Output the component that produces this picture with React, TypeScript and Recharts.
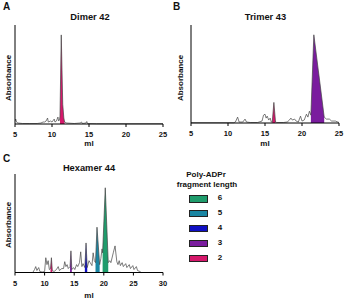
import { ComposedChart, Line, Area, XAxis, YAxis } from "recharts";

const FONT = '"Liberation Sans", Arial, sans-serif';

// legend: poly-ADPr fragment lengths and their fill colours
const fragmentLengths = [6, 5, 4, 3, 2];
const fragmentColors: Record<number, string> = {
  6: "#1f9c6c",
  5: "#1a86a3",
  4: "#1010c4",
  3: "#7a1c9e",
  2: "#d6186b",
};

// chromatogram traces: [ml, absorbance %]
const dimerTrace: [number, number][] = [
  [5.0, 3], [5.1, 5], [5.2, 2], [5.4, 1], [6, 0.5], [7, 0.5], [8, 0.5],
  [8.5, 1], [8.8, 2], [9.0, 2], [9.2, 3], [9.4, 6], [9.5, 2], [9.8, 3],
  [10.0, 2], [10.3, 5], [10.4, 2], [10.6, 3], [10.8, 7], [10.9, 3],
  [11.0, 4], [11.08, 8], [11.25, 90], [11.45, 20], [11.6, 6], [11.7, 2],
  [12, 1], [13, 0.5], [13.8, 1], [14.0, 2], [14.1, 0.5], [14.6, 1],
  [14.7, 2.5], [14.8, 0.5], [16, 0.3], [20, 0.3], [25, 0.3],
];

const trimerTrace: [number, number][] = [
  [5, 0.3], [10.8, 0.3], [11.0, 1], [11.3, 6], [11.5, 1], [12.0, 1],
  [12.3, 4], [12.5, 1], [13, 0.5], [14, 0.5], [14.6, 2], [14.8, 8],
  [15.0, 9], [15.15, 5], [15.3, 7], [15.5, 3], [15.7, 5], [15.85, 1],
  [15.98, 1], [16.2, 21], [16.42, 1], [16.6, 0.5], [17.5, 0.5], [18.0, 1],
  [18.3, 3], [18.5, 5], [18.7, 3], [19.0, 4], [19.2, 2], [19.5, 1],
  [19.8, 7], [20.0, 2], [20.3, 3], [20.6, 9], [20.8, 6], [21.0, 12],
  [21.2, 8], [21.6, 90], [23.0, 6], [23.3, 4], [23.7, 4], [24, 2],
  [24.5, 2], [25, 0.5],
];

const hexamerTrace: [number, number][] = [
  [5, 0], [8.0, 0], [8.3, 3], [8.5, 6], [8.7, 2], [9.0, 5], [9.2, 1],
  [9.6, 0.5], [10.0, 1], [10.2, 15], [10.4, 8], [10.6, 12], [10.8, 3],
  [11.0, 4], [11.15, 15], [11.3, 2], [11.6, 1], [12.0, 3], [12.3, 6],
  [12.5, 2], [12.9, 4], [13.2, 4], [13.4, 11], [13.6, 6], [13.8, 8],
  [14.0, 4], [14.3, 6], [14.45, 22], [14.6, 3], [14.9, 5], [15.1, 3],
  [15.4, 8], [15.6, 6], [15.9, 10], [16.1, 21], [16.3, 6], [16.5, 9],
  [16.8, 5], [17.0, 30], [17.2, 5], [17.5, 12], [17.7, 10], [18.0, 7],
  [18.2, 20], [18.4, 12], [18.6, 10], [18.85, 46], [19.3, 8], [19.5, 14],
  [19.7, 24], [19.8, 20], [20.25, 86], [20.75, 10], [21.0, 12], [21.2, 10],
  [21.6, 20], [21.9, 27], [22.2, 11], [22.4, 8], [22.6, 12], [22.8, 7],
  [23.1, 10], [23.3, 6], [23.7, 9], [23.9, 5], [24.3, 8], [24.5, 4],
  [24.9, 7], [25.1, 3], [25.5, 6], [25.7, 2], [26.1, 1], [26.3, 0], [30, 0],
];

// coloured peak windows (ml range) per chart
const dimerFills = [{ len: 2, from: 11.08, to: 11.7 }];
const trimerFills = [
  { len: 2, from: 15.98, to: 16.42 },
  { len: 3, from: 21.2, to: 23.0 },
];
const hexamerFills = [
  { len: 2, from: 11.0, to: 11.3 },
  { len: 3, from: 14.3, to: 14.6 },
  { len: 4, from: 16.8, to: 17.2 },
  { len: 5, from: 18.6, to: 19.3 },
  { len: 6, from: 19.8, to: 20.75 },
];

const ticks25 = [5, 10, 15, 20, 25];
const ticks30 = [5, 10, 15, 20, 25, 30];

type Fill = { len: number; from: number; to: number };

function buildRows(trace: [number, number][], fills: Fill[]) {
  return trace.map(([ml, abs]) => {
    const row: Record<string, number | null> = { ml, abs };
    fills.forEach((f) => {
      row["f" + f.len] = ml >= f.from && ml <= f.to ? abs : null;
    });
    return row;
  });
}

const Txt = ({ x, y, size, children, rotate, align }: any) => (
  <div
    style={{
      position: "absolute",
      left: x,
      top: y,
      transform:
        (align === "left" ? "translate(0,-50%)" : "translate(-50%,-50%)") +
        (rotate ? " rotate(-90deg)" : ""),
      fontFamily: FONT,
      fontWeight: "bold",
      fontSize: size,
      lineHeight: 1,
      whiteSpace: "nowrap",
      color: "#111",
    }}
  >
    {children}
  </div>
);

const Chromatogram = ({ left, top, width, height, margin, trace, fills, ticks }: any) => {
  const rows = buildRows(trace, fills);
  return (
    <div style={{ position: "absolute", left, top }}>
      <ComposedChart width={width} height={height} data={rows} margin={margin}>
        <XAxis
          type="number"
          dataKey="ml"
          domain={[ticks[0], ticks[ticks.length - 1]]}
          ticks={ticks}
          interval={0}
          allowDataOverflow
          height={14}
          tickSize={3}
          tickMargin={5}
          tick={{ fontSize: 7.5, fontWeight: "bold", fill: "#111", fontFamily: FONT }}
          axisLine={{ stroke: "#000", strokeWidth: 1 }}
          tickLine={{ stroke: "#000" }}
        />
        <YAxis
          type="number"
          domain={[0, 100]}
          width={2}
          tick={false}
          tickLine={false}
          axisLine={{ stroke: "#000", strokeWidth: 1 }}
        />
        {fills.map((f: Fill) => (
          <Area
            key={f.len}
            type="linear"
            dataKey={"f" + f.len}
            fill={fragmentColors[f.len]}
            fillOpacity={1}
            stroke="none"
            isAnimationActive={false}
          />
        ))}
        <Line
          type="linear"
          dataKey="abs"
          stroke="#444"
          strokeWidth={0.7}
          dot={false}
          isAnimationActive={false}
        />
      </ComposedChart>
    </div>
  );
};

export default function App() {
  return (
    <div
      style={{
        position: "absolute",
        left: 0,
        top: 0,
        width: 347,
        height: 302,
        overflow: "hidden",
        background: "#fff",
      }}
    >
      <Chromatogram
        left={0}
        top={0}
        width={170}
        height={150}
        margin={{ top: 25, left: 13, right: 7, bottom: 12 }}
        trace={dimerTrace}
        fills={dimerFills}
        ticks={ticks25}
      />
      <Chromatogram
        left={170}
        top={0}
        width={177}
        height={150}
        margin={{ top: 25, left: 19, right: 8, bottom: 13 }}
        trace={trimerTrace}
        fills={trimerFills}
        ticks={ticks25}
      />
      <Chromatogram
        left={0}
        top={150}
        width={170}
        height={152}
        margin={{ top: 24, left: 13, right: 7, bottom: 15.5 }}
        trace={hexamerTrace}
        fills={hexamerFills}
        ticks={ticks30}
      />

      <Txt x={3} y={6.5} size={10} align="left">A</Txt>
      <Txt x={173} y={6.5} size={10} align="left">B</Txt>
      <Txt x={3} y={158.5} size={10} align="left">C</Txt>

      <Txt x={90} y={17.5} size={9.3}>Dimer 42</Txt>
      <Txt x={265.5} y={17.5} size={9.3}>Trimer 43</Txt>
      <Txt x={89} y={169} size={9.3}>Hexamer 44</Txt>

      <Txt x={8.5} y={78} size={8} rotate>Absorbance</Txt>
      <Txt x={181} y={78} size={8} rotate>Absorbance</Txt>
      <Txt x={8.5} y={225} size={8} rotate>Absorbance</Txt>

      <Txt x={89} y={144} size={8}>ml</Txt>
      <Txt x={265} y={144} size={8}>ml</Txt>
      <Txt x={89} y={295.5} size={8}>ml</Txt>

      <Txt x={206} y={175} size={8}>Poly-ADPr</Txt>
      <Txt x={207} y={185} size={8}>fragment length</Txt>
      {fragmentLengths.map((len, i) => (
        <div key={len}>
          <div
            style={{
              position: "absolute",
              left: 189,
              top: 195 + i * 14.9,
              width: 17,
              height: 5.5,
              background: fragmentColors[len],
              border: "1px solid #222",
            }}
          />
          <Txt x={220} y={198.3 + i * 14.9} size={8}>{len}</Txt>
        </div>
      ))}
    </div>
  );
}
